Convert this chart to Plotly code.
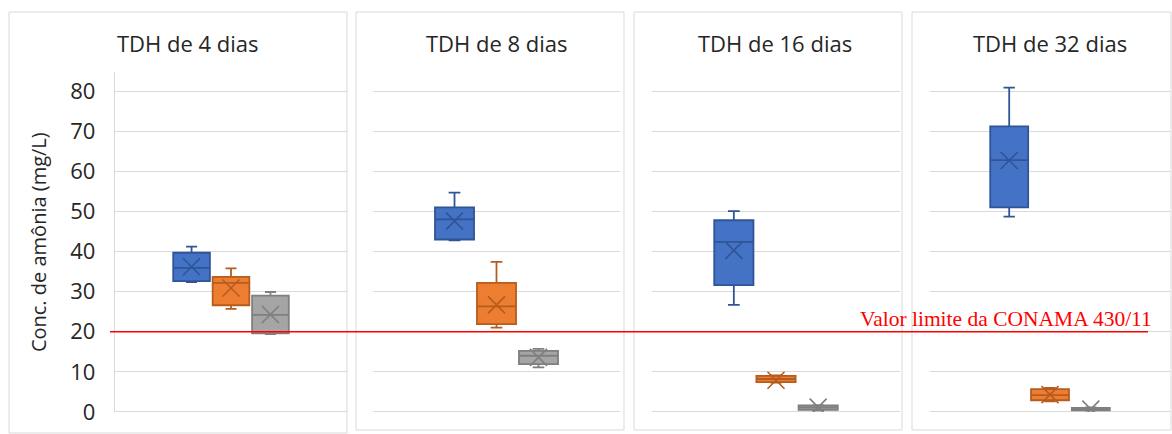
import plotly.graph_objects as go

# ---------------- data ----------------
panels = ["TDH de 4 dias", "TDH de 8 dias", "TDH de 16 dias", "TDH de 32 dias"]
series = ["Série 1", "Série 2", "Série 3"]

# each list: one value per panel (4, 8, 16, 32 dias)
s1_lower = [32.4, 42.8, 26.7, 48.7]
s1_q1 = [32.6, 43.0, 31.6, 51.0]
s1_median = [35.9, 48.0, 42.4, 62.8]
s1_q3 = [39.7, 51.0, 47.8, 71.2]
s1_upper = [41.2, 54.7, 50.1, 80.9]
s1_mean = [36.2, 47.6, 40.3, 62.7]

s2_lower = [25.7, 21.0, 7.3, 2.6]
s2_q1 = [26.6, 21.9, 7.4, 2.9]
s2_median = [32.2, 26.3, 8.2, 4.2]
s2_q3 = [33.7, 32.2, 9.0, 5.7]
s2_upper = [35.8, 37.4, 9.1, 6.0]
s2_mean = [30.9, 26.7, 7.9, 4.3]

s3_lower = [19.4, 11.1, 0.4, 0.3]
s3_q1 = [19.6, 11.9, 0.5, 0.4]
s3_median = [24.2, 14.0, 1.1, 0.7]
s3_q3 = [29.0, 15.2, 1.6, 1.0]
s3_upper = [29.9, 15.7, 1.7, 1.1]
s3_mean = [24.3, 13.6, 1.2, 0.7]

limit_value = 20
limit_label = "Valor limite da CONAMA 430/11"
y_title = "Conc. de amônia (mg/L)"

# ---------------- styling ----------------
W, H = 1172, 434          # reference picture size
FIG_H = 450               # page height that ends up photographed as 434 px
fills = ["#4472C4", "#ED7D31", "#A5A5A5"]
edges = ["#2F5597", "#B65C1E", "#7F7F7F"]
grid = "#D9D9D9"
txt = "#262626"
font_main = "Open Sans"

def px_x(p):
    return p / W

def px_y(p):
    return 1 - p / H

x_domains = [(115, 347), (373, 620), (652, 900), (930, 1170)]
y_domain = [px_y(410), px_y(72)]
y_range = [0, 84.7]

stats = [
    (s1_lower, s1_q1, s1_median, s1_q3, s1_upper, s1_mean),
    (s2_lower, s2_q1, s2_median, s2_q3, s2_upper, s2_mean),
    (s3_lower, s3_q1, s3_median, s3_q3, s3_upper, s3_mean),
]

fig = go.Figure()

for p, panel in enumerate(panels):
    ax = "" if p == 0 else str(p + 1)
    for s, name in enumerate(series):
        lo, q1, me, q3, up, mn = stats[s]
        fig.add_trace(go.Box(
            x=[panel], lowerfence=[lo[p]], q1=[q1[p]], median=[me[p]],
            q3=[q3[p]], upperfence=[up[p]],
            name=name, offsetgroup=name, showlegend=False,
            fillcolor=fills[s], line=dict(color=edges[s], width=1.8),
            whiskerwidth=0.3, boxpoints=False,
            xaxis="x" + ax, yaxis="y" + ax,
        ))
        fig.add_trace(go.Scatter(
            x=[panel], y=[mn[p]], mode="markers", name=name,
            offsetgroup=name, showlegend=False,
            marker=dict(symbol="x-thin-open", size=17,
                        line=dict(width=1.6, color=edges[s]), color=edges[s]),
            xaxis="x" + ax, yaxis="y" + ax,
        ))

layout = dict(
    width=W, height=FIG_H, autosize=False,
    margin=dict(l=0, r=0, t=0, b=0),
    paper_bgcolor="white", plot_bgcolor="white",
    boxmode="group", boxgap=0.49, boxgroupgap=0.07,
    scattermode="group", scattergap=0.49,
    font=dict(family=font_main, color=txt),
)

for p, panel in enumerate(panels):
    ax = "" if p == 0 else str(p + 1)
    layout["xaxis" + ax] = dict(
        domain=[px_x(x_domains[p][0]), px_x(x_domains[p][1])],
        type="category", range=[-0.5, 0.5],
        showticklabels=False, showgrid=False, zeroline=False, showline=False,
        anchor="y" + ax, fixedrange=True,
    )
    layout["yaxis" + ax] = dict(
        domain=y_domain, range=y_range, dtick=10, tick0=0,
        showgrid=True, gridcolor=grid, gridwidth=1.4,
        zeroline=True, zerolinecolor=grid, zerolinewidth=1.4,
        showline=(p == 0), linecolor=grid, linewidth=1.4,
        showticklabels=(p == 0),
        tickfont=dict(family=font_main, size=22, color=txt),
        ticklabelstandoff=14,
        anchor="x" + ax,
    )

fig.update_layout(**layout)

# frames of the four charts
frames = [(9, 12, 347, 431), (356, 12, 624, 428), (634, 12, 902, 428), (912, 12, 1171, 428)]
for (x0, y0, x1, y1) in frames:
    fig.add_shape(type="rect", xref="paper", yref="paper",
                  x0=px_x(x0), x1=px_x(x1), y0=px_y(y1), y1=px_y(y0),
                  line=dict(color=grid, width=1), layer="below")

# panel titles
for p, panel in enumerate(panels):
    cx = [188, 497, 775, 1050][p]
    fig.add_annotation(text=panel, xref="paper", yref="paper",
                       x=px_x(cx), y=px_y(43), showarrow=False,
                       xanchor="center", yanchor="middle",
                       font=dict(family=font_main, size=22, color=txt))

# y axis title
fig.add_annotation(text=y_title, xref="paper", yref="paper",
                   x=px_x(38), y=px_y(241), textangle=-90, showarrow=False,
                   xanchor="center", yanchor="middle",
                   font=dict(family=font_main, size=20, color=txt))

# limit line and label
fig.add_shape(type="line", xref="paper", yref="y",
              x0=px_x(110), x1=px_x(1148), y0=limit_value, y1=limit_value,
              line=dict(color="#FF0000", width=1.5), layer="above")
fig.add_annotation(text=limit_label, xref="paper", yref="y",
                   x=px_x(1154), y=limit_value, showarrow=False,
                   xanchor="right", yanchor="bottom", yshift=-1,
                   font=dict(family="Liberation Serif", size=21.5, color="#FF0000"))

fig.write_html("out.html",
               config={"displayModeBar": False},
               post_script="document.body.style.margin='0';document.body.style.overflow='hidden';")
